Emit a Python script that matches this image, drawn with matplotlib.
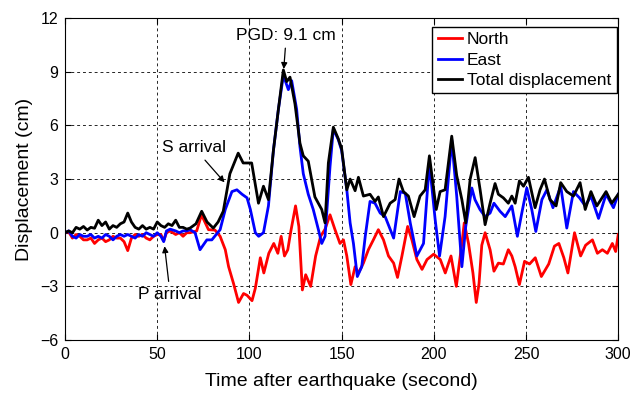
import numpy as np
import matplotlib
matplotlib.use("Agg")
import matplotlib.pyplot as plt

plt.rcParams['font.family'] = ['Liberation Sans', 'DejaVu Sans']

# North component (cm)
t_north = [0, 2, 4, 6, 8, 10, 12, 14, 16, 18, 20, 22, 24, 26, 28, 30, 32, 34, 36, 38,
           40, 42, 44, 46, 48, 50, 52, 53.5, 55, 57, 60, 62, 64, 66, 67.8, 71.4, 74,
           77.8, 81.3, 84.1, 86.9, 88.7, 91.4, 94.1, 96.8, 98.7, 101.4, 103.2, 105.9,
           107.8, 110.5, 113.2, 115.4, 117.2, 119, 120.8, 122.3, 125, 126.8, 128.7,
           130.5, 133.2, 135.9, 138.6, 141, 143.7, 146.4, 149.1, 151, 152.8, 155,
           157.3, 159.1, 161.8, 164.5, 167.2, 169.9, 172.7, 175.4, 178.2, 180.3, 182.7,
           185.8, 188.1, 190.8, 193.6, 196.3, 199.9, 203.5, 206.2, 209.3, 212.2, 215.2,
           216.5, 218.8, 221.2, 223, 224.5, 226, 227.8, 230.5, 232.6, 235, 237.7, 240.4,
           242.3, 244.1, 246.4, 249.2, 251.9, 255, 258.3, 262.3, 265.4, 267.8, 270.5,
           272.7, 276.3, 279.6, 282.3, 286, 288.7, 291.4, 294.1, 296.8, 298.6, 300]
north = [0, 0.05, -0.3, -0.1, -0.2, -0.4, -0.4, -0.3, -0.6, -0.4, -0.3, -0.5, -0.4, -0.2,
         -0.3, -0.3, -0.5, -1.0, -0.3, -0.1, -0.2, -0.1, -0.3, -0.4, -0.2, -0.1, -0.1,
         -0.45, 0.0, 0.1, -0.1, 0.0, -0.2, 0.0, 0.0, 0.1, 1.0, 0.17, 0.15, -0.2, -0.95,
         -1.9, -2.85, -3.9, -3.4, -3.5, -3.8, -3.1, -1.4, -2.25, -1.15, -0.6, -1.15,
         -0.2, -1.3, -0.95, 0.0, 1.5, 0.35, -3.2, -2.35, -3.0, -1.3, -0.2, 0.2, 1.0,
         0.17, -0.6, -0.4, -1.3, -2.9, -1.9, -2.25, -1.7, -0.95, -0.4, 0.17, -0.4, -1.3,
         -1.7, -2.5, -1.3, 0.35, -0.4, -1.5, -2.05, -1.5, -1.2, -1.5, -2.25, -1.3, -3.0,
         -0.6, 0.55, -0.6, -2.25, -3.9, -2.85, -0.7, 0.0, -0.95, -2.15, -1.7, -1.75,
         -0.95, -1.3, -1.9, -2.9, -1.6, -1.75, -1.4, -2.45, -1.75, -0.75, -0.6, -1.4,
         -2.25, 0.0, -1.3, -0.7, -0.4, -1.15, -0.95, -1.15, -0.6, -1.05, -0.1]

# East component (cm)
t_east = [0, 2, 4, 6, 8, 10, 12, 14, 16, 18, 20, 22, 24, 26, 28, 30, 32, 34, 36, 38, 40,
          42, 44, 46, 48, 50, 52, 53.5, 55, 57, 60, 62, 64, 66, 67.8, 70.5, 73.2, 76.9,
          79.6, 84.1, 86.9, 90.5, 93.2, 96, 98.7, 100.5, 103.2, 105, 107.6, 110.3, 113,
          115.7, 118.4, 121.1, 122.9, 125.6, 127.4, 129.2, 131.9, 134.6, 137.4, 139.2,
          141, 143.7, 145.5, 148.2, 150, 152.8, 154.6, 156.4, 158.5, 160.9, 162.8, 165.4,
          168.1, 170.9, 173.6, 178.2, 181.8, 184.5, 187.2, 190.8, 194.4, 197.6, 200.7,
          203.1, 206.1, 209.7, 212.4, 215.2, 217.3, 220.6, 222.3, 225, 227.8, 230.5,
          232.6, 235.9, 238.7, 242.3, 245.3, 247.7, 250.4, 253.1, 255.3, 258.6, 261.3,
          264.6, 268.8, 272.1, 275.7, 279, 282.1, 285.2, 289.3, 293.4, 297.4, 300]
east = [0, 0.1, -0.2, -0.3, -0.1, -0.2, -0.2, -0.1, -0.3, -0.2, -0.3, -0.1, -0.2, -0.4,
        -0.2, -0.1, -0.2, -0.1, -0.2, -0.3, -0.1, -0.2, 0.0, -0.1, -0.2, 0.0, -0.2, -0.5,
        0.1, 0.2, 0.1, 0.0, 0.1, 0.1, 0.17, 0.0, -0.95, -0.4, -0.4, 0.17, 1.3, 2.3, 2.4,
        2.15, 1.95, 1.3, 0.0, -0.2, 0.0, 1.5, 4.6, 6.9, 8.8, 8.0, 8.5, 6.9, 4.8, 3.3,
        2.15, 1.3, 0.17, -0.6, -0.2, 3.7, 5.8, 5.2, 4.6, 2.4, 0.55, -0.6, -2.45, -1.9,
        -0.2, 1.75, 1.65, 1.1, 0.9, -0.3, 2.3, 2.2, 0.55, -1.3, -0.6, 3.9, 0.75, -1.3,
        0.9, 5.2, 2.05, -1.9, 0.35, 2.5, 1.85, 1.3, 0.9, 1.1, 1.65, 1.2, 0.9, 1.5, -0.2,
        1.1, 2.5, 1.3, 0.07, 1.85, 2.4, 1.4, 2.6, 0.26, 2.3, 1.95, 1.5, 2.05, 0.8, 2.15,
        1.4, 2.15]

# Total displacement (cm)
t_total = [0, 2, 4, 6, 8, 10, 12, 14, 16, 18, 20, 22, 24, 26, 28, 30, 32, 34, 36, 38, 40,
           42, 44, 46, 48, 50, 52, 54, 56, 58, 60, 62, 64, 66, 67.8, 71, 74.1, 77, 80.4,
           83, 85.8, 89.4, 93.9, 96.6, 101.2, 104.9, 107.6, 110.3, 113, 115.7, 118.4,
           120.2, 122, 124.7, 127.4, 129.2, 131.9, 135.5, 139.2, 141, 142.8, 145.5, 148.2,
           150, 152.8, 154.6, 157.3, 159.1, 161.8, 165.4, 168.1, 169.9, 172.7, 176.3, 179,
           181.1, 183.5, 186.2, 189.3, 192.5, 195.3, 197.6, 201.3, 203.4, 206.1, 209.7,
           212.4, 215.2, 217.3, 219.7, 222.4, 225.1, 227.8, 230.5, 233.2, 235, 237.7,
           240.4, 242.3, 244.1, 246.4, 248.6, 251.3, 254.9, 257.6, 260, 263, 266.3, 268.8,
           272.1, 275.7, 279.3, 282.1, 285.2, 288.4, 293.4, 296.5, 300]
total = [0, 0.1, 0.0, 0.3, 0.2, 0.35, 0.15, 0.3, 0.25, 0.7, 0.4, 0.6, 0.2, 0.4, 0.3, 0.5,
         0.6, 1.1, 0.6, 0.3, 0.2, 0.4, 0.2, 0.3, 0.2, 0.6, 0.4, 0.3, 0.5, 0.4, 0.7, 0.3,
         0.3, 0.2, 0.26, 0.5, 1.2, 0.6, 0.26, 0.6, 1.2, 3.3, 4.45, 3.9, 3.9, 1.65, 2.6,
         1.85, 4.6, 6.9, 9.1, 8.45, 8.7, 7.2, 5.0, 4.3, 4.0, 2.0, 1.3, 0.55, 3.9, 5.9,
         5.25, 4.7, 2.4, 3.0, 2.35, 3.1, 2.05, 2.15, 1.75, 2.0, 0.9, 1.65, 1.85, 3.0, 2.3,
         2.05, 0.9, 2.05, 2.4, 4.3, 1.3, 2.3, 2.4, 5.4, 3.2, 1.85, 0.55, 3.0, 4.2, 2.4,
         0.45, 1.65, 2.75, 2.15, 1.95, 1.65, 2.05, 1.65, 2.9, 2.6, 3.1, 1.4, 2.4, 3.0,
         1.85, 1.5, 2.8, 2.3, 2.05, 2.8, 1.3, 2.3, 1.5, 2.3, 1.65, 2.15]

x_ticks = np.arange(0, 301, 50)
y_ticks = np.arange(-6, 13, 3)

fig = plt.figure(figsize=(6.44, 3.94), dpi=100)
ax = fig.add_axes([0.101, 0.137, 0.859, 0.817])

ax.plot(t_north, north, color='#ff0000', lw=2.0, label='North')
ax.plot(t_east, east, color='#0000ff', lw=2.0, label='East')
ax.plot(t_total, total, color='black', lw=2.0, label='Total displacement')

ax.set_xlim(0, 300)
ax.set_ylim(-6, 12)
ax.set_xticks(x_ticks)
ax.set_yticks(y_ticks)
ax.tick_params(direction='in', top=True, right=True, labelsize=11.5, length=4, pad=5)
ax.grid(True, color='black', linestyle=(0, (3, 3)), lw=0.7, alpha=0.85)
ax.set_xlabel('Time after earthquake (second)', fontsize=14, labelpad=8)
ax.set_ylabel('Displacement (cm)', fontsize=14, labelpad=5)

ax.legend(loc='upper right', bbox_to_anchor=(0.997, 0.972), fontsize=12.5,
          frameon=True, fancybox=False, edgecolor='black', framealpha=1,
          handlelength=1.4, borderpad=0.3, labelspacing=0.3, handletextpad=0.3,
          borderaxespad=0)

arrow = dict(arrowstyle='-|>', color='black', lw=0.9, mutation_scale=9)
ax.annotate('PGD: 9.1 cm', xy=(118.5, 9.0), xytext=(120, 11.05),
            fontsize=12.5, ha='center', va='center', arrowprops=arrow)
ax.annotate('S arrival', xy=(87.5, 2.7), xytext=(70, 4.75),
            fontsize=12.5, ha='center', va='center', arrowprops=arrow)
ax.annotate('P arrival', xy=(53.8, -0.6), xytext=(57, -3.45),
            fontsize=12.5, ha='center', va='center', arrowprops=arrow)

fig.savefig('out.png', dpi=100)
